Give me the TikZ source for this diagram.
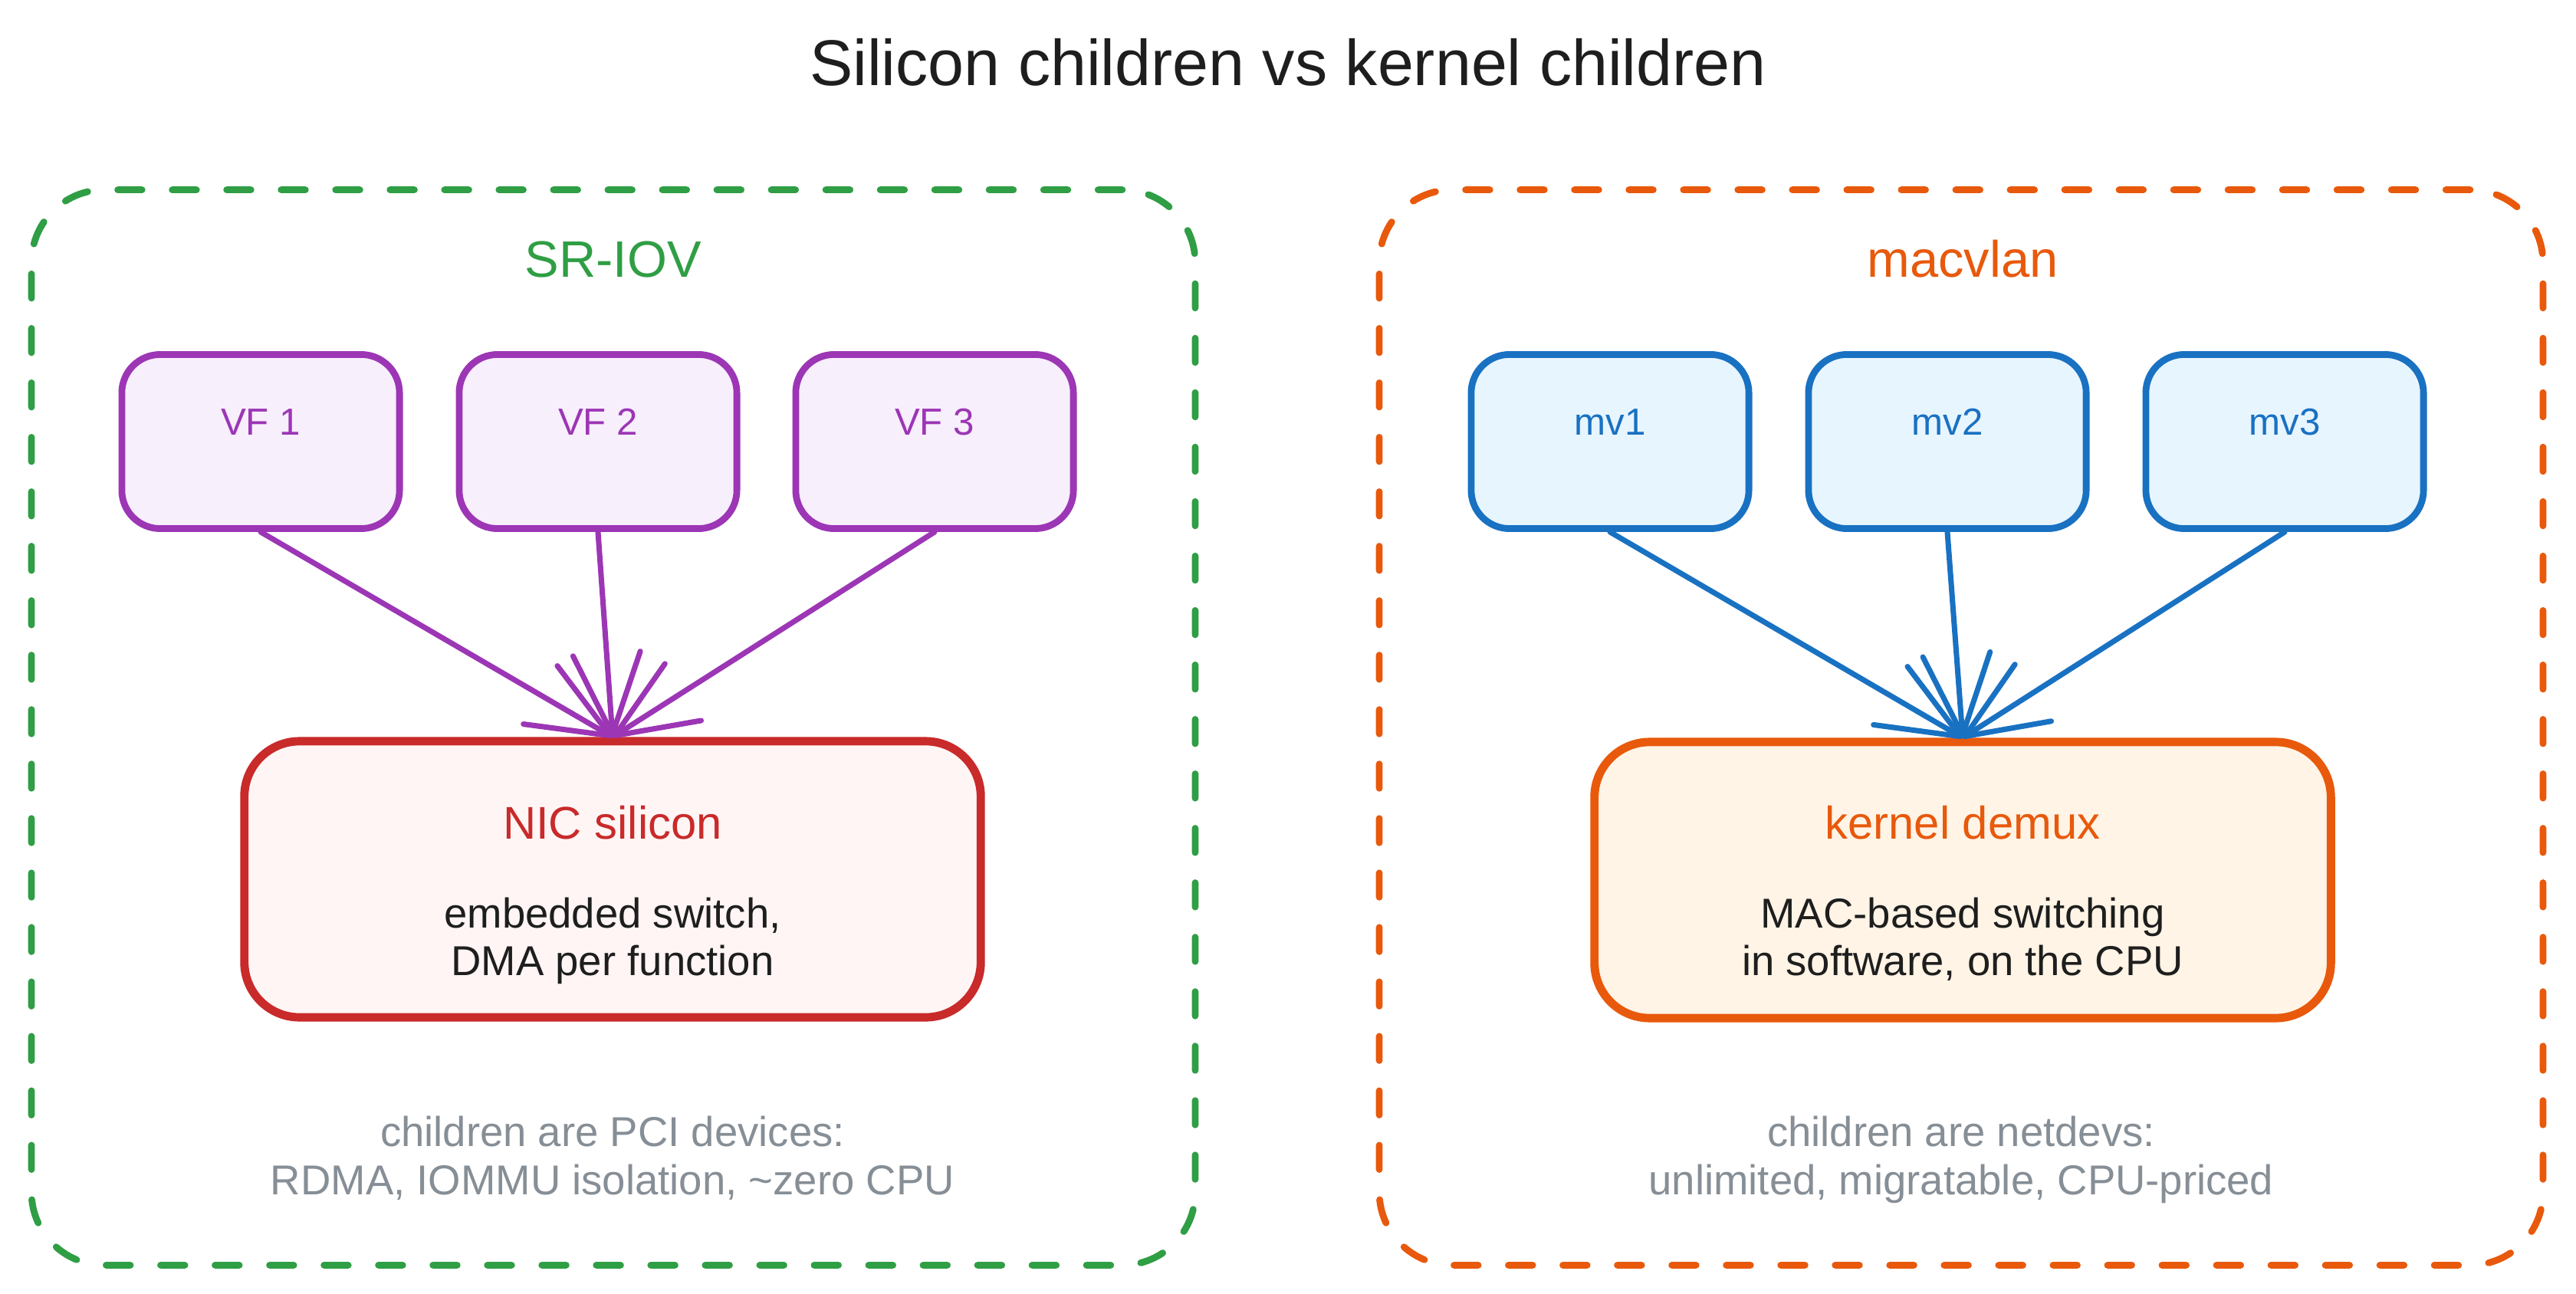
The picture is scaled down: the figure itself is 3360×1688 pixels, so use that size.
\documentclass[tikz,border=0pt]{standalone}
\usepackage{fontspec}
\setmainfont{Liberation Sans}
\usetikzlibrary{arrows.meta}
\definecolor{ink}{HTML}{1E1E1E}
\definecolor{cgreen}{HTML}{2F9E44}
\definecolor{corange}{HTML}{E8590C}
\definecolor{cviolet}{HTML}{9C36B5}
\definecolor{cvioletbg}{HTML}{F7EFFC}
\definecolor{cblue}{HTML}{1971C2}
\definecolor{cbluebg}{HTML}{E7F5FF}
\definecolor{cred}{HTML}{C92A2A}
\definecolor{credbg}{HTML}{FFF5F5}
\definecolor{corangebg}{HTML}{FFF4E6}
\definecolor{cgray}{HTML}{868E96}
\begin{document}
\begin{tikzpicture}[x=0.01cm,y=-0.01cm,
  frame/.style={draw, line width=2.5pt, line cap=round, dash pattern=on 9pt off 11.2pt,
    rounded corners=0.95cm, minimum width=15.17cm, minimum height=14.02cm, inner sep=0pt},
  childbox/.style={draw, line width=2.5pt, rounded corners=0.5cm,
    minimum width=3.62cm, minimum height=2.27cm, inner sep=0pt},
  corebox/.style={draw, line width=3.1pt, rounded corners=0.72cm,
    minimum width=9.6cm, minimum height=3.6cm, inner sep=0pt},
  txt/.style={anchor=base, inner sep=0pt},
  titlefont/.style={font=\fontsize{24}{28}\selectfont},
  groupfont/.style={font=\fontsize{19}{23}\selectfont},
  labelfont/.style={font=\fontsize{14}{17}\selectfont},
  headfont/.style={font=\fontsize{17}{20}\selectfont},
  bodyfont/.style={font=\fontsize{15.5}{18}\selectfont},
  link/.style={line width=2pt, line cap=round,
    -{Straight Barb[length=30pt,width=25pt,round]}}
]
\useasboundingbox (0,0) rectangle (3360,1688);
\fill[white] (0,0) rectangle (3360,1688);

% title
\node[txt, titlefont, text=ink] (title) at (1680,112) {Silicon children vs kernel children};

% group frames
\node[frame, draw=cgreen] (sriovframe) at (800,949) {};
\node[frame, draw=corange] (macframe) at (2558,949) {};
\node[txt, groupfont, text=cgreen] (sriovlabel) at (800,361) {SR-IOV};
\node[txt, groupfont, text=corange] (maclabel) at (2560,361) {macvlan};

% SR-IOV children
\node[childbox, draw=cviolet, fill=cvioletbg] (vf1) at (340,576) {};
\node[childbox, draw=cviolet, fill=cvioletbg] (vf2) at (780,576) {};
\node[childbox, draw=cviolet, fill=cvioletbg] (vf3) at (1219,576) {};
\node[txt, labelfont, text=cviolet] (vf1t) at (340,567) {VF 1};
\node[txt, labelfont, text=cviolet] (vf2t) at (780,567) {VF 2};
\node[txt, labelfont, text=cviolet] (vf3t) at (1219,567) {VF 3};

% macvlan children
\node[childbox, draw=cblue, fill=cbluebg] (mv1) at (2100,576) {};
\node[childbox, draw=cblue, fill=cbluebg] (mv2) at (2540,576) {};
\node[childbox, draw=cblue, fill=cbluebg] (mv3) at (2980,576) {};
\node[txt, labelfont, text=cblue] (mv1t) at (2100,567) {mv1};
\node[txt, labelfont, text=cblue] (mv2t) at (2540,567) {mv2};
\node[txt, labelfont, text=cblue] (mv3t) at (2980,567) {mv3};

% core boxes
\node[corebox, draw=cred, fill=credbg] (nic) at (799,1147) {};
\node[corebox, draw=corange, fill=corangebg] (kdemux) at (2560,1148) {};

\node[txt, headfont, text=cred] (nich) at (799,1094) {NIC silicon};
\node[txt, bodyfont, text=ink] (nicb1) at (799,1210) {embedded switch,};
\node[txt, bodyfont, text=ink] (nicb2) at (799,1272) {DMA per function};

\node[txt, headfont, text=corange] (kdh) at (2560,1094) {kernel demux};
\node[txt, bodyfont, text=ink] (kdb1) at (2560,1210) {MAC-based switching};
\node[txt, bodyfont, text=ink] (kdb2) at (2560,1272) {in software, on the CPU};

% connectors
\draw[link, cviolet] (vf1.south) -- (nic.north);
\draw[link, cviolet] (vf2.south) -- (nic.north);
\draw[link, cviolet] (vf3.south) -- (nic.north);
\draw[link, cblue] (mv1.south) -- (kdemux.north);
\draw[link, cblue] (mv2.south) -- (kdemux.north);
\draw[link, cblue] (mv3.south) -- (kdemux.north);

% footnotes
\node[txt, bodyfont, text=cgray] (sriovn1) at (799,1495) {children are PCI devices:};
\node[txt, bodyfont, text=cgray] (sriovn2) at (799,1558) {RDMA, IOMMU isolation, \textasciitilde zero CPU};
\node[txt, bodyfont, text=cgray] (macn1) at (2558,1495) {children are netdevs:};
\node[txt, bodyfont, text=cgray] (macn2) at (2558,1558) {unlimited, migratable, CPU-priced};
\end{tikzpicture}
\end{document}
